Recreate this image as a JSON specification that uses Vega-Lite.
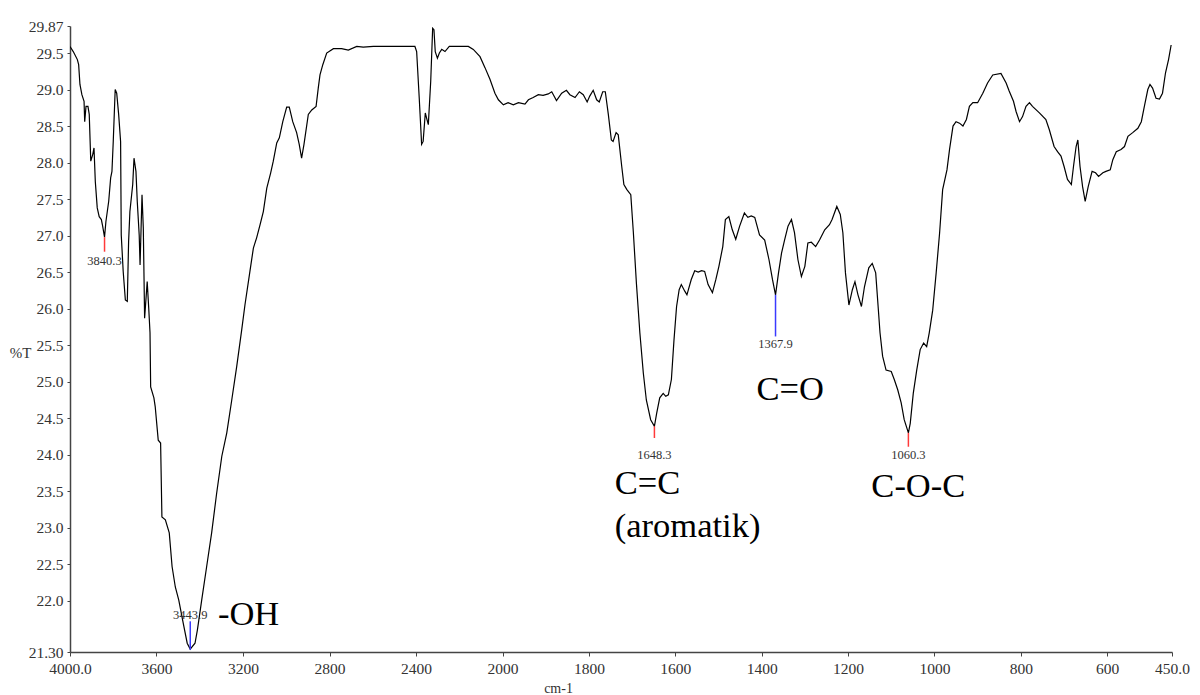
{
  "$schema": "https://vega.github.io/schema/vega-lite/v6.json",
  "width": 1102,
  "height": 626,
  "autosize": {"type": "none"},
  "padding": {"left": 70, "top": 26, "right": 28, "bottom": 43},
  "background": "white",
  "config": {
    "view": {"stroke": null},
    "font": "Liberation Serif",
    "axis": {
      "labelOverlap": false,
      "labelFont": "Liberation Serif",
      "titleFont": "Liberation Serif",
      "grid": false,
      "labelFlush": false,
      "labelFontSize": 15.5,
      "labelColor": "#333333",
      "domainColor": "#444444",
      "domainWidth": 1.5,
      "tickColor": "#444444",
      "titleFontWeight": "normal",
      "titleColor": "#333333"
    }
  },
  "resolve": {"axis": {"x": "independent", "y": "independent"}},
  "datasets": {
    "spectrum": [
      {"wn": 4000, "t": 29.59}, {"wn": 3985, "t": 29.52}, {"wn": 3966, "t": 29.41}, {"wn": 3960, "t": 29.34},
      {"wn": 3954, "t": 29.07}, {"wn": 3945, "t": 28.93}, {"wn": 3935, "t": 28.84}, {"wn": 3932, "t": 28.56},
      {"wn": 3926, "t": 28.77}, {"wn": 3917, "t": 28.77}, {"wn": 3911, "t": 28.66}, {"wn": 3904, "t": 28.02},
      {"wn": 3895, "t": 28.11}, {"wn": 3889, "t": 28.2}, {"wn": 3883, "t": 27.74}, {"wn": 3874, "t": 27.38},
      {"wn": 3865, "t": 27.26}, {"wn": 3855, "t": 27.22}, {"wn": 3849, "t": 27.13}, {"wn": 3840.3, "t": 26.98},
      {"wn": 3834, "t": 27.19}, {"wn": 3821, "t": 27.47}, {"wn": 3812, "t": 27.79}, {"wn": 3806, "t": 27.88},
      {"wn": 3800, "t": 28.29}, {"wn": 3791, "t": 29.0}, {"wn": 3784, "t": 28.95}, {"wn": 3775, "t": 28.66},
      {"wn": 3766, "t": 28.29}, {"wn": 3763, "t": 27.01}, {"wn": 3754, "t": 26.51}, {"wn": 3744, "t": 26.12},
      {"wn": 3735, "t": 26.1}, {"wn": 3729, "t": 26.92}, {"wn": 3723, "t": 27.33}, {"wn": 3710, "t": 27.7},
      {"wn": 3704, "t": 28.06}, {"wn": 3695, "t": 27.88}, {"wn": 3689, "t": 27.47}, {"wn": 3680, "t": 27.01},
      {"wn": 3676, "t": 26.6}, {"wn": 3667, "t": 27.56}, {"wn": 3661, "t": 27.1}, {"wn": 3655, "t": 25.87},
      {"wn": 3643, "t": 26.37}, {"wn": 3636, "t": 26.01}, {"wn": 3630, "t": 25.67}, {"wn": 3627, "t": 24.93},
      {"wn": 3612, "t": 24.78}, {"wn": 3606, "t": 24.66}, {"wn": 3592, "t": 24.2}, {"wn": 3581, "t": 24.16},
      {"wn": 3575, "t": 23.15}, {"wn": 3559, "t": 23.11}, {"wn": 3541, "t": 22.93}, {"wn": 3528, "t": 22.47},
      {"wn": 3513, "t": 22.19}, {"wn": 3497, "t": 22.01}, {"wn": 3476, "t": 21.69}, {"wn": 3458, "t": 21.42},
      {"wn": 3443.9, "t": 21.34}, {"wn": 3422, "t": 21.42}, {"wn": 3411, "t": 21.6}, {"wn": 3391, "t": 22.01},
      {"wn": 3368, "t": 22.47}, {"wn": 3345, "t": 22.93}, {"wn": 3322, "t": 23.47}, {"wn": 3298, "t": 23.98},
      {"wn": 3275, "t": 24.3}, {"wn": 3252, "t": 24.75}, {"wn": 3229, "t": 25.21}, {"wn": 3206, "t": 25.71},
      {"wn": 3191, "t": 26.05}, {"wn": 3168, "t": 26.51}, {"wn": 3152, "t": 26.83}, {"wn": 3137, "t": 26.97},
      {"wn": 3121, "t": 27.15}, {"wn": 3106, "t": 27.33}, {"wn": 3090, "t": 27.65}, {"wn": 3072, "t": 27.86},
      {"wn": 3060, "t": 28.02}, {"wn": 3044, "t": 28.27}, {"wn": 3032, "t": 28.34}, {"wn": 3016, "t": 28.56},
      {"wn": 2998, "t": 28.76}, {"wn": 2986, "t": 28.76}, {"wn": 2970, "t": 28.56}, {"wn": 2952, "t": 28.41},
      {"wn": 2940, "t": 28.25}, {"wn": 2929, "t": 28.06}, {"wn": 2918, "t": 28.25}, {"wn": 2898, "t": 28.66},
      {"wn": 2882, "t": 28.72}, {"wn": 2862, "t": 28.77}, {"wn": 2852, "t": 29.02}, {"wn": 2844, "t": 29.2},
      {"wn": 2831, "t": 29.34}, {"wn": 2813, "t": 29.5}, {"wn": 2782, "t": 29.56}, {"wn": 2744, "t": 29.56},
      {"wn": 2713, "t": 29.54}, {"wn": 2674, "t": 29.59}, {"wn": 2644, "t": 29.58}, {"wn": 2597, "t": 29.59},
      {"wn": 2405, "t": 29.59}, {"wn": 2397, "t": 29.52}, {"wn": 2385, "t": 28.88}, {"wn": 2374, "t": 28.25},
      {"wn": 2367, "t": 28.29}, {"wn": 2357, "t": 28.68}, {"wn": 2351, "t": 28.61}, {"wn": 2343, "t": 28.52},
      {"wn": 2332, "t": 29.11}, {"wn": 2323, "t": 29.84}, {"wn": 2317, "t": 29.82}, {"wn": 2311, "t": 29.52},
      {"wn": 2301, "t": 29.43}, {"wn": 2292, "t": 29.5}, {"wn": 2281, "t": 29.55}, {"wn": 2266, "t": 29.52},
      {"wn": 2246, "t": 29.59}, {"wn": 2158, "t": 29.59}, {"wn": 2135, "t": 29.55}, {"wn": 2104, "t": 29.45},
      {"wn": 2081, "t": 29.3}, {"wn": 2058, "t": 29.14}, {"wn": 2035, "t": 28.95}, {"wn": 2019, "t": 28.86},
      {"wn": 1998, "t": 28.79}, {"wn": 1987, "t": 28.82}, {"wn": 1975, "t": 28.79}, {"wn": 1963, "t": 28.82},
      {"wn": 1948, "t": 28.8}, {"wn": 1940, "t": 28.86}, {"wn": 1929, "t": 28.89}, {"wn": 1917, "t": 28.93},
      {"wn": 1906, "t": 28.92}, {"wn": 1894, "t": 28.94}, {"wn": 1886, "t": 28.97}, {"wn": 1875, "t": 28.85},
      {"wn": 1863, "t": 28.95}, {"wn": 1852, "t": 28.99}, {"wn": 1844, "t": 28.93}, {"wn": 1832, "t": 28.89},
      {"wn": 1822, "t": 28.97}, {"wn": 1813, "t": 28.93}, {"wn": 1804, "t": 28.83}, {"wn": 1798, "t": 28.91},
      {"wn": 1790, "t": 28.99}, {"wn": 1782, "t": 28.86}, {"wn": 1776, "t": 28.83}, {"wn": 1768, "t": 28.97},
      {"wn": 1762, "t": 28.97}, {"wn": 1755, "t": 28.66}, {"wn": 1748, "t": 28.31}, {"wn": 1744, "t": 28.29},
      {"wn": 1737, "t": 28.41}, {"wn": 1732, "t": 28.38}, {"wn": 1724, "t": 27.95}, {"wn": 1719, "t": 27.7},
      {"wn": 1712, "t": 27.63}, {"wn": 1703, "t": 27.56}, {"wn": 1697, "t": 27.04}, {"wn": 1690, "t": 26.35},
      {"wn": 1682, "t": 25.67}, {"wn": 1674, "t": 25.12}, {"wn": 1667, "t": 24.75}, {"wn": 1657, "t": 24.48},
      {"wn": 1648.3, "t": 24.39}, {"wn": 1643, "t": 24.57}, {"wn": 1636, "t": 24.78}, {"wn": 1628, "t": 24.84},
      {"wn": 1622, "t": 24.8}, {"wn": 1616, "t": 24.82}, {"wn": 1609, "t": 25.03}, {"wn": 1603, "t": 25.57},
      {"wn": 1597, "t": 26.03}, {"wn": 1591, "t": 26.26}, {"wn": 1586, "t": 26.33}, {"wn": 1578, "t": 26.24},
      {"wn": 1573, "t": 26.19}, {"wn": 1563, "t": 26.4}, {"wn": 1555, "t": 26.52}, {"wn": 1547, "t": 26.5},
      {"wn": 1539, "t": 26.52}, {"wn": 1532, "t": 26.51}, {"wn": 1524, "t": 26.33}, {"wn": 1514, "t": 26.22},
      {"wn": 1506, "t": 26.4}, {"wn": 1499, "t": 26.58}, {"wn": 1490, "t": 26.85}, {"wn": 1484, "t": 27.22},
      {"wn": 1476, "t": 27.26}, {"wn": 1468, "t": 27.08}, {"wn": 1460, "t": 26.95}, {"wn": 1451, "t": 27.13},
      {"wn": 1440, "t": 27.31}, {"wn": 1432, "t": 27.25}, {"wn": 1424, "t": 27.27}, {"wn": 1416, "t": 27.25},
      {"wn": 1405, "t": 27.01}, {"wn": 1393, "t": 26.94}, {"wn": 1383, "t": 26.67}, {"wn": 1375, "t": 26.4},
      {"wn": 1367.9, "t": 26.19}, {"wn": 1361, "t": 26.49}, {"wn": 1354, "t": 26.76}, {"wn": 1347, "t": 26.94},
      {"wn": 1339, "t": 27.13}, {"wn": 1331, "t": 27.22}, {"wn": 1324, "t": 27.04}, {"wn": 1316, "t": 26.67},
      {"wn": 1308, "t": 26.44}, {"wn": 1300, "t": 26.58}, {"wn": 1293, "t": 26.9}, {"wn": 1285, "t": 26.91},
      {"wn": 1275, "t": 26.85}, {"wn": 1266, "t": 26.94}, {"wn": 1254, "t": 27.08}, {"wn": 1243, "t": 27.15},
      {"wn": 1237, "t": 27.22}, {"wn": 1226, "t": 27.4}, {"wn": 1218, "t": 27.29}, {"wn": 1212, "t": 27.04},
      {"wn": 1206, "t": 26.49}, {"wn": 1198, "t": 26.05}, {"wn": 1190, "t": 26.26}, {"wn": 1184, "t": 26.37},
      {"wn": 1177, "t": 26.19}, {"wn": 1169, "t": 26.03}, {"wn": 1162, "t": 26.3}, {"wn": 1152, "t": 26.56},
      {"wn": 1144, "t": 26.62}, {"wn": 1136, "t": 26.49}, {"wn": 1130, "t": 26.0}, {"wn": 1126, "t": 25.67},
      {"wn": 1120, "t": 25.35}, {"wn": 1112, "t": 25.16}, {"wn": 1100, "t": 25.14}, {"wn": 1093, "t": 25.03},
      {"wn": 1085, "t": 24.89}, {"wn": 1077, "t": 24.71}, {"wn": 1070, "t": 24.48}, {"wn": 1060.3, "t": 24.3},
      {"wn": 1056, "t": 24.43}, {"wn": 1049, "t": 24.84}, {"wn": 1041, "t": 25.16}, {"wn": 1033, "t": 25.44},
      {"wn": 1025, "t": 25.53}, {"wn": 1018, "t": 25.48}, {"wn": 1012, "t": 25.67}, {"wn": 1004, "t": 25.98},
      {"wn": 996, "t": 26.49}, {"wn": 988, "t": 27.04}, {"wn": 981, "t": 27.63}, {"wn": 971, "t": 27.9},
      {"wn": 965, "t": 28.18}, {"wn": 957, "t": 28.5}, {"wn": 950, "t": 28.56}, {"wn": 942, "t": 28.54},
      {"wn": 934, "t": 28.5}, {"wn": 926, "t": 28.59}, {"wn": 919, "t": 28.77}, {"wn": 911, "t": 28.82},
      {"wn": 900, "t": 28.82}, {"wn": 888, "t": 28.95}, {"wn": 877, "t": 29.09}, {"wn": 865, "t": 29.2},
      {"wn": 846, "t": 29.22}, {"wn": 834, "t": 29.09}, {"wn": 827, "t": 28.98}, {"wn": 817, "t": 28.84},
      {"wn": 811, "t": 28.7}, {"wn": 803, "t": 28.56}, {"wn": 796, "t": 28.63}, {"wn": 788, "t": 28.77},
      {"wn": 780, "t": 28.82}, {"wn": 773, "t": 28.77}, {"wn": 757, "t": 28.68}, {"wn": 742, "t": 28.59},
      {"wn": 734, "t": 28.45}, {"wn": 723, "t": 28.22}, {"wn": 715, "t": 28.15}, {"wn": 707, "t": 28.09},
      {"wn": 700, "t": 27.95}, {"wn": 692, "t": 27.77}, {"wn": 683, "t": 27.7}, {"wn": 678, "t": 27.95},
      {"wn": 672, "t": 28.22}, {"wn": 668, "t": 28.31}, {"wn": 663, "t": 27.95}, {"wn": 657, "t": 27.67},
      {"wn": 651, "t": 27.47}, {"wn": 644, "t": 27.67}, {"wn": 635, "t": 27.88}, {"wn": 627, "t": 27.86},
      {"wn": 620, "t": 27.81}, {"wn": 610, "t": 27.86}, {"wn": 603, "t": 27.88}, {"wn": 593, "t": 27.9},
      {"wn": 587, "t": 28.04}, {"wn": 579, "t": 28.15}, {"wn": 568, "t": 28.18}, {"wn": 560, "t": 28.22},
      {"wn": 552, "t": 28.36}, {"wn": 541, "t": 28.41}, {"wn": 529, "t": 28.47}, {"wn": 521, "t": 28.56},
      {"wn": 514, "t": 28.77}, {"wn": 506, "t": 29.0}, {"wn": 501, "t": 29.07}, {"wn": 495, "t": 29.02},
      {"wn": 487, "t": 28.88}, {"wn": 479, "t": 28.87}, {"wn": 472, "t": 28.95}, {"wn": 465, "t": 29.23},
      {"wn": 458, "t": 29.41}, {"wn": 452, "t": 29.61}
    ],
    "peaks": [
      {"wn": 3840.3, "t": 26.98, "t2": 26.78, "ty": 26.65, "label": "3840.3", "group": "A"},
      {"wn": 3443.9, "t": 21.72, "t2": 21.33, "ty": 21.81, "label": "3443.9", "group": "B"},
      {"wn": 1648.3, "t": 24.39, "t2": 24.23, "ty": 24.0, "label": "1648.3", "group": "A"},
      {"wn": 1367.9, "t": 26.19, "t2": 25.62, "ty": 25.51, "label": "1367.9", "group": "B"},
      {"wn": 1060.3, "t": 24.3, "t2": 24.11, "ty": 24.0, "label": "1060.3", "group": "A"}
    ],
    "notes": [
      {"wn": 3316, "t": 21.81, "text": "-OH"},
      {"wn": 1740, "t": 23.6, "text": "C=C"},
      {"wn": 1740, "t": 23.01, "text": "(aromatik)"},
      {"wn": 1412, "t": 24.89, "text": "C=O"},
      {"wn": 1146, "t": 23.56, "text": "C-O-C"}
    ]
  },
  "layer": [
    {
      "data": {"name": "spectrum"},
      "mark": {"type": "line", "color": "black", "strokeWidth": 1.2, "clip": true},
      "encoding": {
        "x": {
          "field": "wn", "type": "quantitative", "title": "cm-1",
          "scale": {"type": "linear", "domain": [4000, 2000, 450], "range": [0, 432.5, 1102], "zero": false, "nice": false},
          "axis": {
            "values": [4000, 3600, 3200, 2800, 2400, 2000, 1800, 1600, 1400, 1200, 1000, 800, 600, 450],
            "format": "d",
            "labelExpr": "datum.value == 4000 ? '4000.0' : datum.value == 450 ? '450.0' : datum.label",
            "title": "cm-1",
            "tickSize": 4,
            "labelPadding": 5,
            "labelOverlap": false,
            "titleFontSize": 14,
            "titleX": 488,
            "titleY": 36,
            "titleBaseline": "middle",
            "titleAlign": "center"
          }
        },
        "y": {
          "field": "t", "type": "quantitative", "title": "%T",
          "scale": {"domain": [21.3, 29.87], "zero": false, "nice": false},
          "axis": {
            "values": [21.3, 22, 22.5, 23, 23.5, 24, 24.5, 25, 25.5, 26, 26.5, 27, 27.5, 28, 28.5, 29, 29.5, 29.87],
            "labelExpr": "datum.value == 21.3 ? '21.30' : datum.value == 29.87 ? '29.87' : format(datum.value, '.1f')",
            "title": "%T",
            "tickSize": 3,
            "labelPadding": 4,
            "labelOverlap": false,
            "labelSeparation": 0,
            "labelBound": false,
            "titleFontSize": 15,
            "titleAngle": 0,
            "titleX": -50,
            "titleY": 326,
            "titleAlign": "center",
            "titleBaseline": "middle"
          }
        }
      }
    },
    {
      "data": {"name": "peaks"},
      "mark": {"type": "rule", "strokeWidth": 1.5},
      "encoding": {
        "x": {"field": "wn", "type": "quantitative", "axis": null},
        "y": {"field": "t", "type": "quantitative", "axis": null},
        "y2": {"field": "t2"},
        "color": {"field": "group", "type": "nominal", "scale": {"domain": ["A", "B"], "range": ["#ff3a3a", "#3a3aff"]}, "legend": null}
      }
    },
    {
      "data": {"name": "peaks"},
      "mark": {"type": "text", "font": "Liberation Serif", "fontSize": 12.5, "fill": "#333333", "align": "center", "baseline": "middle"},
      "encoding": {
        "x": {"field": "wn", "type": "quantitative", "axis": null},
        "y": {"field": "ty", "type": "quantitative", "axis": null},
        "text": {"field": "label"}
      }
    },
    {
      "data": {"name": "notes"},
      "mark": {"type": "text", "font": "Liberation Serif", "fontSize": 34.5, "fill": "black", "align": "left", "baseline": "middle"},
      "encoding": {
        "x": {"field": "wn", "type": "quantitative", "axis": null},
        "y": {"field": "t", "type": "quantitative", "axis": null},
        "text": {"field": "text"}
      }
    }
  ]
}
